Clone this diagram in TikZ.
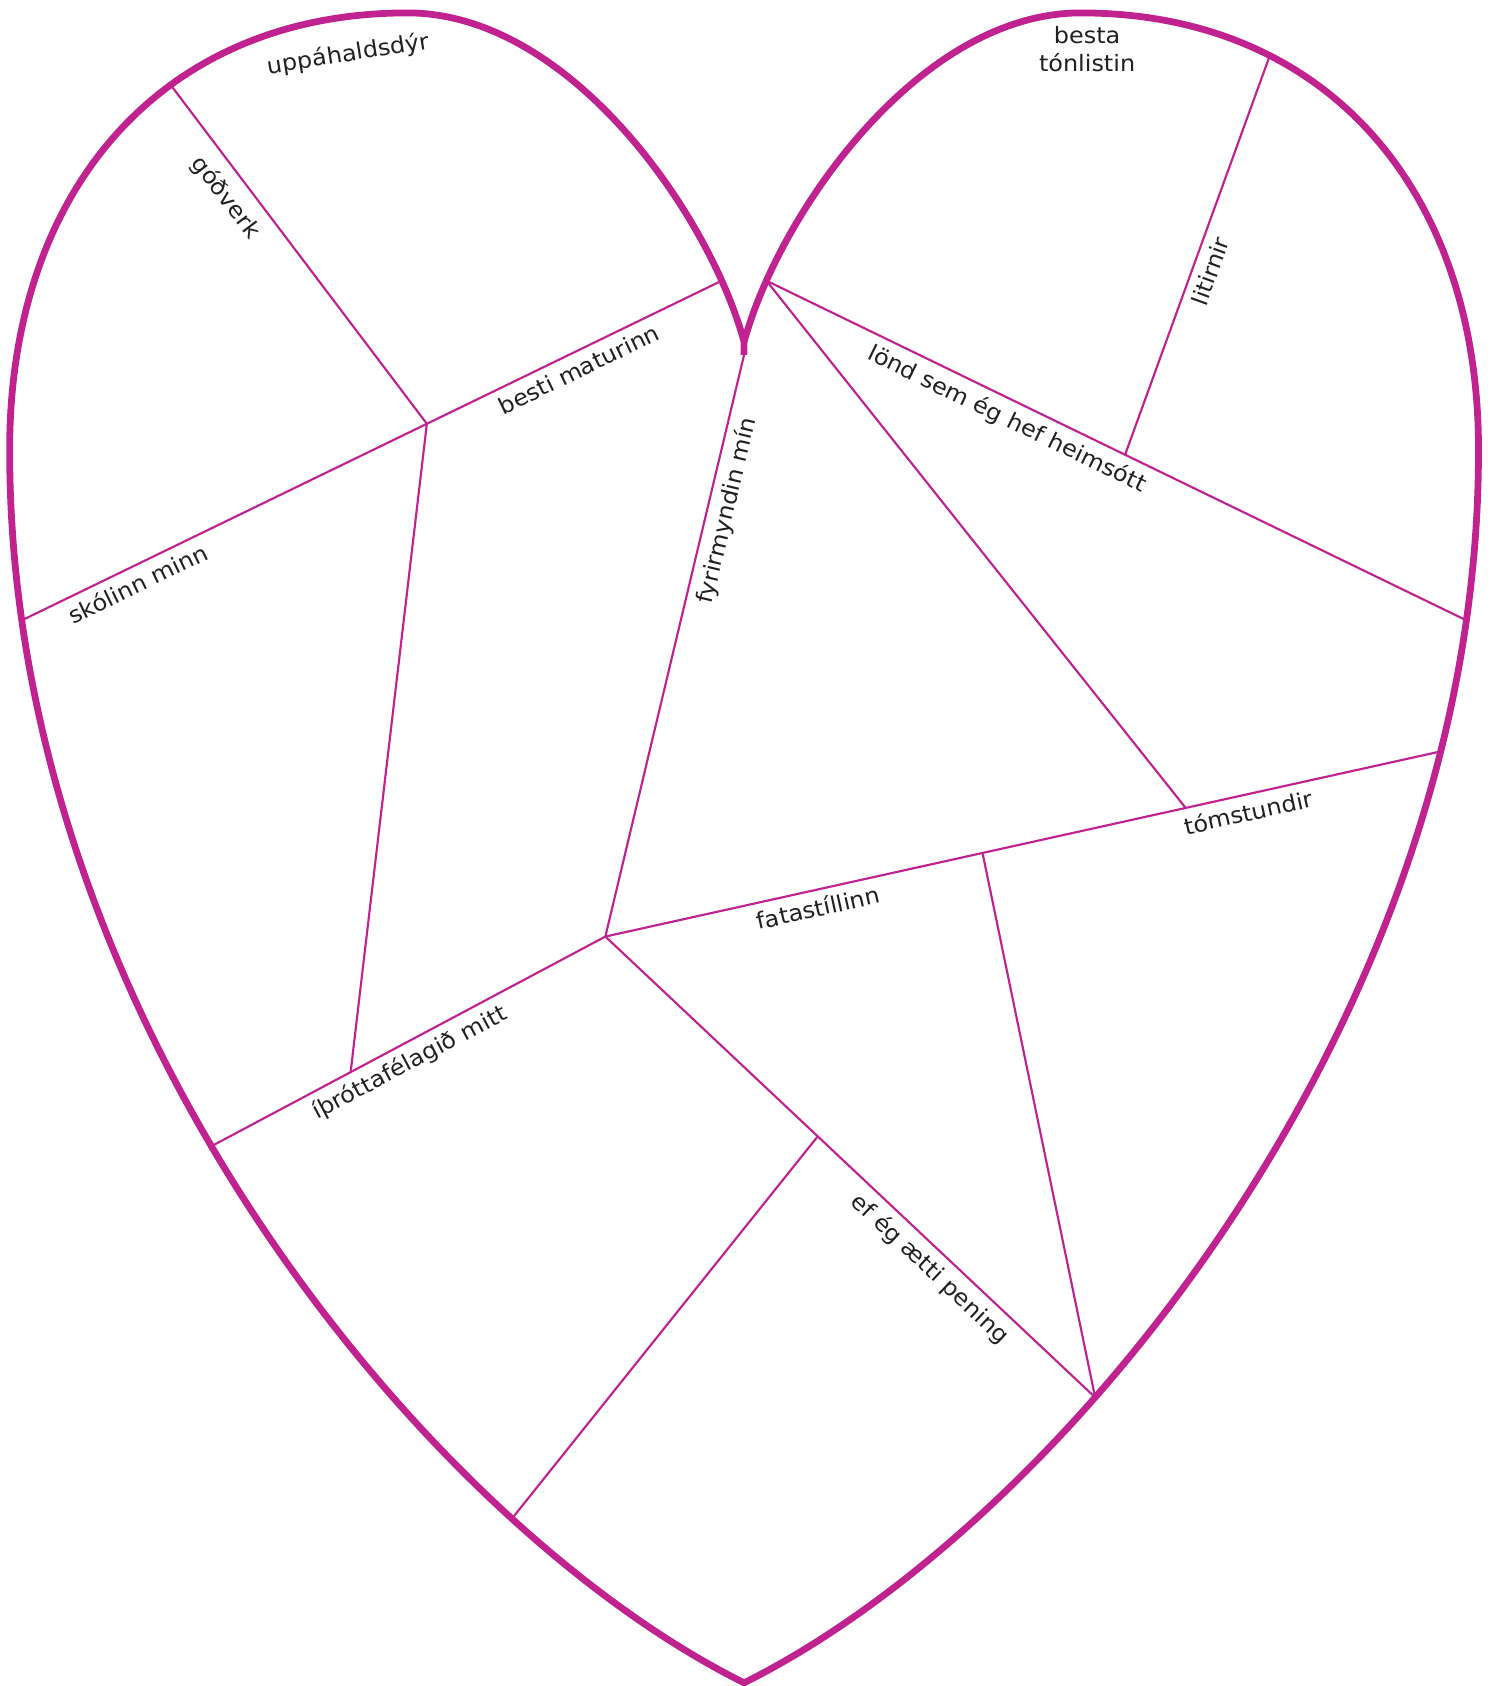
\documentclass[tikz,border=0pt]{standalone}
\usepackage{fontspec}
\setmainfont{DejaVu Sans}[FakeStretch=1.06]
\usetikzlibrary{calc}
\definecolor{heartc}{RGB}{192,35,143}
\definecolor{txt}{RGB}{35,31,32}
\begin{document}
\begin{tikzpicture}[x=1pt,y=-1pt,
  outline/.style={draw=heartc, line width=6.3pt, line join=miter, line cap=butt},
  divider/.style={draw=heartc, line width=2pt},
  lbl/.style={text=txt, font=\fontsize{21}{26}\selectfont, inner xsep=3pt, inner ysep=7pt},
  under/.style={lbl, sloped, anchor=north}]
\useasboundingbox (0,0) rectangle (1387,1568);
\coordinate (notch) at (692,330);
\coordinate (tip) at (692,1565);
\coordinate (J2) at (563,871);
% heart outline
\draw[outline] (notch) -- (692,318) .. controls (660,200) and (530,12) .. (379,12)
  .. controls (150,12) and (8,178) .. (9,420)
  .. controls (9,950) and (400,1420) .. (tip)
  .. controls (984,1420) and (1375,950) .. (1375,420)
  .. controls (1376,178) and (1234,12) .. (1005,12)
  .. controls (854,12) and (724,200) .. (692,318) -- (notch);
% named points on the outline
\path (692,318) .. controls (660,200) and (530,12) .. (379,12) coordinate[pos=0.15] (bm1);
\path (379,12) .. controls (150,12) and (8,178) .. (9,420) coordinate[pos=0.38] (gv0);
\path (9,420) .. controls (9,950) and (400,1420) .. (692,1565) coordinate[pos=0.1] (sk0) coordinate[pos=0.443] (ip0) coordinate[pos=0.765] (eb0);
\path (692,318) .. controls (724,200) and (854,12) .. (1005,12) coordinate[pos=0.15] (rn);
\path (1005,12) .. controls (1234,12) and (1376,178) .. (1375,420) coordinate[pos=0.29] (lt0);
\path (1375,420) .. controls (1375,950) and (984,1420) .. (692,1565) coordinate[pos=0.1] (ln1) coordinate[pos=0.18] (tm1) coordinate[pos=0.645] (bt);
% dividers
\draw[divider] (sk0) -- node[under, pos=0.155] (lsk) {skólinn minn} node[under, pos=0.785] (lbm) {besti maturinn} (bm1);
\coordinate (J1) at ($(sk0)!0.5787!(bm1)$);
\draw[divider] (gv0) -- node[under, pos=0.29, inner ysep=11pt] (lgv) {góðverk} (J1);
\coordinate (K1) at ($(ip0)!0.3534!(J2)$);
\draw[divider] (J1) -- (K1);
\draw[divider] (ip0) -- node[under, pos=0.48] (lip) {íþróttafélagið mitt} (J2);
\draw[divider] (J2) -- node[under, pos=0.74] (lfy) {fyrirmyndin mín} (notch);
\draw[divider] (J2) -- node[under, pos=0.25] (lfa) {fatastíllinn} node[under, pos=0.765] (ltm) {tómstundir} (tm1);
\coordinate (F1) at ($(J2)!0.4515!(tm1)$);
\coordinate (T1) at ($(J2)!0.6947!(tm1)$);
\draw[divider] (J2) -- node[under, pos=0.69] (lef) {ef ég ætti pening} (bt);
\coordinate (E1) at ($(J2)!0.4336!(bt)$);
\draw[divider] (E1) -- (eb0);
\draw[divider] (F1) -- (bt);
\draw[divider] (rn) -- (T1);
\draw[divider] (rn) -- node[under, pos=0.356] (lln) {lönd sem ég hef heimsótt} (ln1);
\coordinate (L1) at ($(rn)!0.5124!(ln1)$);
\draw[divider] (L1) -- node[under, pos=0.475] (llt) {litirnir} (lt0);
% labels under the outline
\node[lbl, inner ysep=3pt, rotate=9, anchor=base] (lup) at (325,57) {uppáhaldsdýr};
\node[lbl, inner ysep=3pt, align=center] (lbt) at (1011,46) {besta\\tónlistin};
\end{tikzpicture}
\end{document}
